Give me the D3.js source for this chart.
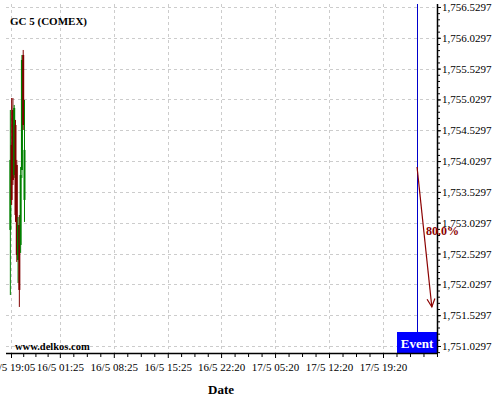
<!DOCTYPE html>
<html><head><meta charset="utf-8">
<script src="https://cdn.jsdelivr.net/npm/d3@7"></script>
<style>
html,body{margin:0;padding:0;background:#fff;}
svg{display:block;font-family:"Liberation Serif","DejaVu Serif",serif;}
</style></head>
<body>
<svg id="chart" width="500" height="400"></svg>
<script>
// ---- data ----
const title = "GC 5 (COMEX)";
const watermark = "www.delkos.com";
const xAxisTitle = "Date";
const xTickLabels = ["15/5 19:05","16/5 01:25","16/5 08:25","16/5 15:25","16/5 22:20","17/5 05:20","17/5 12:20","17/5 19:20"];
const yTickValues = [1751.0297,1751.5297,1752.0297,1752.5297,1753.0297,1753.5297,1754.0297,1754.5297,1755.0297,1755.5297,1756.0297,1756.5297];
const candleTimes = ["15/5 19:00","15/5 19:10","15/5 19:20","15/5 19:30","15/5 19:40","15/5 19:50","15/5 20:00","15/5 20:10","15/5 20:20","15/5 20:30","15/5 20:40","15/5 20:50"];
const candleOpen  = [1752.912,1754.291,1754.859,1753.804,1754.615,1753.966,1752.425,1752.993,1752.669,1753.885,1755.751,1753.399];
const candleHigh  = [1754.859,1755.053,1755.053,1754.940,1754.697,1754.048,1753.123,1753.155,1753.934,1755.751,1755.832,1755.021];
const candleLow   = [1751.857,1753.318,1753.642,1753.756,1753.042,1752.393,1752.052,1751.663,1752.539,1753.756,1754.534,1753.042];
const candleClose = [1754.048,1753.399,1753.723,1754.891,1753.155,1752.506,1752.993,1751.939,1753.804,1755.670,1754.615,1754.210];
const eventTime = "17/5 23:45";
const eventLabel = "Event";
const arrowTimes = ["17/5 23:45","18/5 01:40"];
const arrowPrices = [1753.934,1751.663];
const arrowLabel = "80.0%";
const yDomain = [1750.916,1756.578];

// ---- helpers ----
const parse = s => d3.timeParse("%d/%m %H:%M %Y")(s + " 2024");
const fmtX = d3.timeFormat("%-d/%-m %H:%M");
const fmtY = d3.format(",.4f");

const plot = {left: 6, right: 437, top: 4, bottom: 353};

const svg = d3.select("#chart");
const x = d3.scaleTime()
  .domain([parse(xTickLabels[0]), parse(xTickLabels[xTickLabels.length-1])])
  .range([11, 383]);
const y = d3.scaleLinear().domain(yDomain).range([plot.bottom, plot.top]);

const majorTimes = xTickLabels.map(parse);

// clip
svg.append("defs").append("clipPath").attr("id","clip")
  .append("rect").attr("x",plot.left).attr("y",plot.top)
  .attr("width",plot.right-plot.left).attr("height",plot.bottom-plot.top);

// gridlines
const grid = svg.append("g").attr("stroke","#cccccc").attr("stroke-dasharray","3,3").attr("stroke-width",1);
grid.selectAll("line.h").data(yTickValues).join("line")
  .attr("x1",plot.left).attr("x2",plot.right)
  .attr("y1",d=>Math.round(y(d))+0.5).attr("y2",d=>Math.round(y(d))+0.5);
grid.selectAll("line.v").data(majorTimes).join("line")
  .attr("y1",plot.top).attr("y2",plot.bottom)
  .attr("x1",d=>Math.round(x(d))+0.5).attr("x2",d=>Math.round(x(d))+0.5);

// candles
const candles = candleTimes.map((t,i)=>({t:parse(t),o:candleOpen[i],h:candleHigh[i],l:candleLow[i],c:candleClose[i]}));
const cg = svg.append("g").attr("clip-path","url(#clip)");
candles.forEach(d=>{
  const col = d.c >= d.o ? "#008000" : "#800000";
  const cx = x(d.t);
  cg.append("line").attr("x1",cx).attr("x2",cx).attr("y1",y(d.h)).attr("y2",y(d.l))
    .attr("stroke",col).attr("stroke-width",1);
  const top = y(Math.max(d.o,d.c)), bot = y(Math.min(d.o,d.c));
  cg.append("rect").attr("x",cx-1).attr("width",2).attr("y",top).attr("height",Math.max(1,bot-top))
    .attr("fill",col);
});

// event line and box
const ex = x(parse(eventTime));
const exs = Math.round(ex)+0.5;
svg.append("line").attr("x1",exs).attr("x2",exs).attr("y1",plot.top).attr("y2",plot.bottom-21)
  .attr("stroke","#0000cc").attr("stroke-width",1);
svg.append("rect").attr("x",Math.round(ex)-20).attr("y",plot.bottom-21).attr("width",41).attr("height",21)
  .attr("fill","#0000ff");
svg.append("text").attr("x",ex).attr("y",plot.bottom-5).attr("text-anchor","middle")
  .attr("fill","#fff").attr("font-weight","bold").attr("font-size",13).text(eventLabel);

// axes
const yAxisG = svg.append("g").attr("transform",`translate(${plot.right},0)`);
const yMinor = d3.range(0, Math.round((yDomain[1]-yTickValues[0])/0.1)+1).map(k=>yTickValues[0]+k*0.1)
  .concat(d3.range(1, Math.floor((yTickValues[0]-yDomain[0])/0.1)+1).map(k=>yTickValues[0]-k*0.1))
  .filter(v=>v>=yDomain[0]&&v<=yDomain[1]);
yAxisG.append("g").call(d3.axisRight(y).tickValues(yMinor).tickSize(3).tickFormat(""))
  .call(g=>g.select(".domain").remove());
yAxisG.append("g").call(d3.axisRight(y).tickValues(yTickValues).tickSize(4).tickPadding(1).tickFormat(fmtY))
  .call(g=>g.select(".domain").remove())
  .call(g=>g.selectAll("text").attr("font-size",11).attr("font-family","Liberation Serif, serif").attr("fill","#000"));
svg.append("line").attr("x1",plot.right+0.5).attr("x2",plot.right+0.5).attr("y1",plot.top).attr("y2",plot.bottom)
  .attr("stroke","#000").attr("stroke-width",1.5);

const xAxisG = svg.append("g").attr("transform",`translate(0,${plot.bottom})`);
const minorTimes = [];
for (let i=0;i<majorTimes.length-1;i++){
  const a=+majorTimes[i], b=+majorTimes[i+1];
  for (let k=1;k<4;k++) minorTimes.push(new Date(a+(b-a)*k/4));
}
{
  const a=+majorTimes[majorTimes.length-2], b=+majorTimes[majorTimes.length-1], step=(b-a)/4;
  for (let t=b+step; x(new Date(t))<=plot.right; t+=step) minorTimes.push(new Date(t));
}
xAxisG.append("g").call(d3.axisBottom(x).tickValues(minorTimes).tickSize(4).tickFormat(""))
  .call(g=>g.select(".domain").remove());
xAxisG.append("g").call(d3.axisBottom(x).tickValues(majorTimes).tickSize(5).tickPadding(5).tickFormat(fmtX))
  .call(g=>g.select(".domain").remove())
  .call(g=>g.selectAll("text").attr("font-size",11).attr("font-family","Liberation Serif, serif").attr("fill","#000"));
svg.append("line").attr("x1",plot.left).attr("x2",plot.right+1).attr("y1",plot.bottom+0.5).attr("y2",plot.bottom+0.5)
  .attr("stroke","#000").attr("stroke-width",1.5);

// arrow
const ax0 = x(parse(arrowTimes[0])), ay0 = y(arrowPrices[0]);
const ax1 = x(parse(arrowTimes[1])), ay1 = y(arrowPrices[1]);
const ang = Math.atan2(ay1-ay0, ax1-ax0);
const hl = 9, ha = 0.45;
svg.append("line").attr("x1",ax0).attr("y1",ay0).attr("x2",ax1).attr("y2",ay1)
  .attr("stroke","#8b0000").attr("stroke-width",1.2);
svg.append("path")
  .attr("d",`M${ax1-hl*Math.cos(ang-ha)},${ay1-hl*Math.sin(ang-ha)}L${ax1},${ay1}L${ax1-hl*Math.cos(ang+ha)},${ay1-hl*Math.sin(ang+ha)}`)
  .attr("fill","none").attr("stroke","#8b0000").attr("stroke-width",1.2);
svg.append("text").attr("x",(ax0+ax1)/2+1.5).attr("y",(ay0+ay1)/2-2)
  .attr("fill","#8b0000").attr("font-weight","bold").attr("font-size",12).text(arrowLabel);

// texts
svg.append("text").attr("x",10).attr("y",25).attr("font-weight","bold").attr("font-size",11).text(title);
svg.append("text").attr("x",15).attr("y",350).attr("font-weight","bold").attr("font-size",10.5).text(watermark);
svg.append("text").attr("x",221).attr("y",394).attr("text-anchor","middle").attr("font-weight","bold").attr("font-size",13).text(xAxisTitle);
</script>
</body></html>
